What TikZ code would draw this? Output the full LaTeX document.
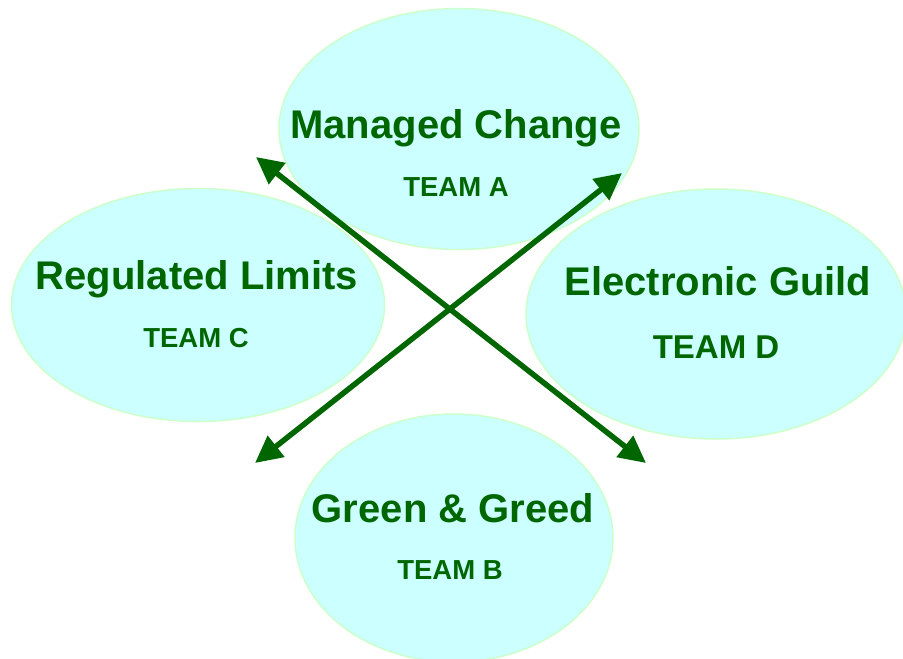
\documentclass[tikz,border=0pt]{standalone}
\usepackage{fontspec}
\setmainfont{Liberation Sans}
\usetikzlibrary{shapes.geometric,arrows.meta}
\definecolor{bubble}{HTML}{CCFFFF}
\definecolor{rim}{HTML}{CCFFCC}
\definecolor{leaf}{HTML}{006600}
\begin{document}
\begin{tikzpicture}[x=1pt,y=-1pt,
  team/.style={ellipse,fill=bubble,draw=rim,line width=1.5pt,inner sep=0pt},
  title/.style={text=leaf,font=\bfseries\fontsize{40}{40}\selectfont,inner sep=0pt,anchor=center},
  tag/.style={text=leaf,font=\bfseries\fontsize{27.5}{27.5}\selectfont,inner sep=0pt,anchor=center},
  link/.style={draw=leaf,line width=5.5pt,{Triangle[length=27pt,width=26pt]}-{Triangle[length=27pt,width=26pt]}}]
\useasboundingbox (0,0) rectangle (903,659);
% the four team bubbles
\node[team,minimum width=360pt,minimum height=241pt] (a) at (459,129) {};
\node[team,minimum width=373pt,minimum height=233pt] (c) at (198,305) {};
\node[team,minimum width=380pt,minimum height=250pt] (d) at (716,314) {};
\node[team,minimum width=318pt,minimum height=248pt] (b) at (454,538) {};
% scenario names and team labels
\node[title] (at) at (456,128) {Managed Change};
\node[tag]   (al) at (456,187) {TEAM A};
\node[title] (ct) at (197,279) {Regulated Limits};
\node[tag]   (cl) at (196,338) {TEAM C};
\node[title] (dt) at (718,281) {Electronic Guild};
\node[tag,font=\bfseries\fontsize{33}{33}\selectfont] (dl) at (716,347) {TEAM D};
\node[title] (bt) at (453,508) {Green \& Greed};
\node[tag]   (bl) at (450,570) {TEAM B};
% arrow end points
\coordinate (nw) at (256,157);
\coordinate (se) at (646,463);
\coordinate (ne) at (622,173);
\coordinate (sw) at (255,463);
\draw[link] (nw) -- (se);
\draw[link] (sw) -- (ne);
\end{tikzpicture}
\end{document}
